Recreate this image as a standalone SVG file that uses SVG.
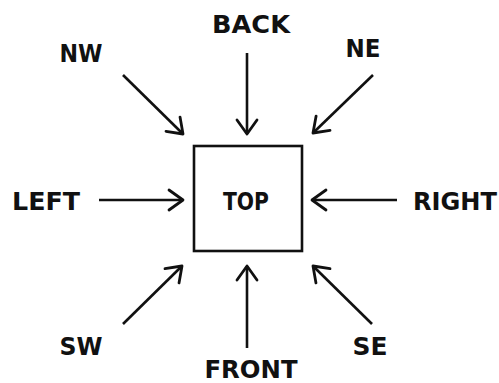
<svg xmlns="http://www.w3.org/2000/svg" width="499" height="383" viewBox="0 0 499 383">
<style>
text{font-family:"DejaVu Sans","Liberation Sans",sans-serif;font-weight:bold;font-size:25px;fill:#111;text-anchor:middle}
.c line{stroke:#111;stroke-width:2.6;marker-end:url(#ah)}
</style>
<defs>
<marker id="ah" markerUnits="userSpaceOnUse" viewBox="0 0 20 24" markerWidth="20" markerHeight="24" refX="17" refY="12" orient="auto">
<path d="M3,2 L17,12 L3,22" fill="none" stroke="#111" stroke-width="2.8" stroke-linecap="round" stroke-linejoin="round"/>
</marker>
</defs>
<rect width="499" height="383" fill="#fff"/>
<g id="top">
<rect x="194" y="146" width="108" height="105" fill="none" stroke="#111" stroke-width="2.6"/>
<text x="246" y="210" textLength="46" lengthAdjust="spacingAndGlyphs" style="font-size:24px">TOP</text>
</g>
<g id="back"><text x="251" y="33" textLength="78" lengthAdjust="spacingAndGlyphs">BACK</text></g>
<g id="nw"><text x="81" y="62" textLength="43" lengthAdjust="spacingAndGlyphs">NW</text></g>
<g id="ne"><text x="363" y="57" textLength="35" lengthAdjust="spacingAndGlyphs">NE</text></g>
<g id="left"><text x="46" y="210" textLength="68" lengthAdjust="spacingAndGlyphs">LEFT</text></g>
<g id="right"><text x="455" y="210" textLength="84" lengthAdjust="spacingAndGlyphs">RIGHT</text></g>
<g id="sw"><text x="81" y="355" textLength="43" lengthAdjust="spacingAndGlyphs">SW</text></g>
<g id="se"><text x="370" y="355" textLength="35" lengthAdjust="spacingAndGlyphs">SE</text></g>
<g id="front"><text x="251" y="378" textLength="93" lengthAdjust="spacingAndGlyphs">FRONT</text></g>
<g class="c" id="connectors">
<line x1="123" y1="75" x2="183" y2="134"/>
<line x1="247" y1="53" x2="247" y2="134"/>
<line x1="373" y1="75" x2="313" y2="133"/>
<line x1="99" y1="200" x2="183" y2="200"/>
<line x1="397" y1="200" x2="312" y2="200"/>
<line x1="123" y1="324" x2="182" y2="266"/>
<line x1="247" y1="348" x2="247" y2="266"/>
<line x1="372" y1="324" x2="313" y2="266"/>
</g>
</svg>
